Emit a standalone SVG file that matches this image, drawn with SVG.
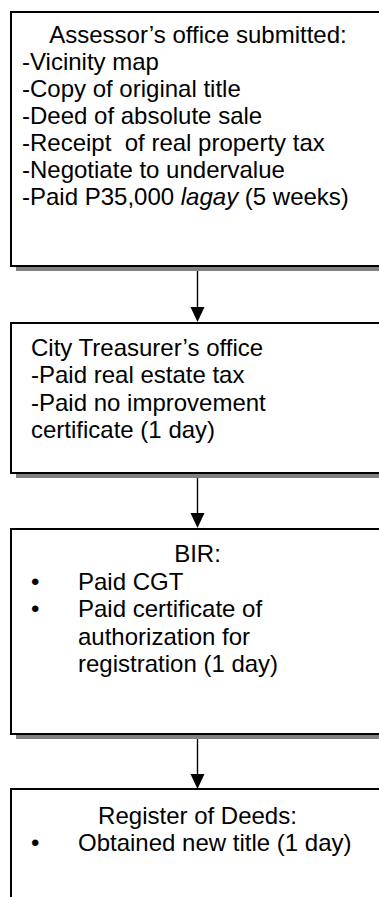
<svg xmlns="http://www.w3.org/2000/svg" width="379" height="897" viewBox="0 0 379 897">
  <defs>
    <style>
      .box { fill: #ffffff; stroke: #000000; stroke-width: 2; }
      .shadow { fill: #808080; }
      .t { font-family: "Liberation Sans", Arial, sans-serif; font-size: 24px; fill: #000000; }
      .c { text-anchor: middle; }
      .link { stroke: #000000; stroke-width: 1.4; fill: none; }
      .head { fill: #000000; }
    </style>
  </defs>
  <rect width="379" height="897" fill="#ffffff"/>

  <!-- connectors -->
  <g id="connectors">
    <line class="link" x1="197.5" y1="267" x2="197.5" y2="309"/>
    <polygon class="head" points="190.5,307 204.5,307 197.5,322"/>
    <line class="link" x1="197.5" y1="474" x2="197.5" y2="515"/>
    <polygon class="head" points="190.5,513 204.5,513 197.5,528"/>
    <line class="link" x1="197.5" y1="735" x2="197.5" y2="776"/>
    <polygon class="head" points="190.5,774 204.5,774 197.5,789"/>
  </g>

  <g id="assessor">
    <rect class="shadow" x="16" y="17" width="376" height="254"/>
    <rect class="box" x="11" y="12" width="376" height="254"/>
    <text class="t c" x="198" y="42.5">Assessor’s office submitted:</text>
    <text class="t" x="22" y="69.5">-Vicinity map</text>
    <text class="t" x="22" y="96.5">-Copy of original title</text>
    <text class="t" x="22" y="123.5">-Deed of absolute sale</text>
    <text class="t" x="22" y="150.5" xml:space="preserve">-Receipt  of real property tax</text>
    <text class="t" x="22" y="177.5">-Negotiate to undervalue</text>
    <text class="t" x="22" y="204.5">-Paid P35,000 <tspan font-style="italic">lagay</tspan> (5 weeks)</text>
  </g>

  <g id="treasurer">
    <rect class="shadow" x="16" y="328" width="376" height="150"/>
    <rect class="box" x="11" y="323" width="376" height="150"/>
    <text class="t" x="31" y="355.5">City Treasurer’s office</text>
    <text class="t" x="31" y="383.1">-Paid real estate tax</text>
    <text class="t" x="31" y="410.7">-Paid no improvement</text>
    <text class="t" x="31" y="438.3">certificate (1 day)</text>
  </g>

  <g id="bir">
    <rect class="shadow" x="16" y="534" width="376" height="205"/>
    <rect class="box" x="11" y="529" width="376" height="205"/>
    <text class="t c" x="197.5" y="562">BIR:</text>
    <text class="t" x="31" y="589.6">•</text>
    <text class="t" x="78" y="589.6">Paid CGT</text>
    <text class="t" x="31" y="617.2">•</text>
    <text class="t" x="78" y="617.2">Paid certificate of</text>
    <text class="t" x="78" y="644.8">authorization for</text>
    <text class="t" x="78" y="672.4">registration (1 day)</text>
  </g>

  <g id="deeds">
    <rect class="shadow" x="16" y="794" width="376" height="200"/>
    <rect class="box" x="11" y="789" width="376" height="200"/>
    <text class="t c" x="197.5" y="823.5">Register of Deeds:</text>
    <text class="t" x="31" y="851.1">•</text>
    <text class="t" x="78" y="851.1">Obtained new title (1 day)</text>
  </g>
</svg>
